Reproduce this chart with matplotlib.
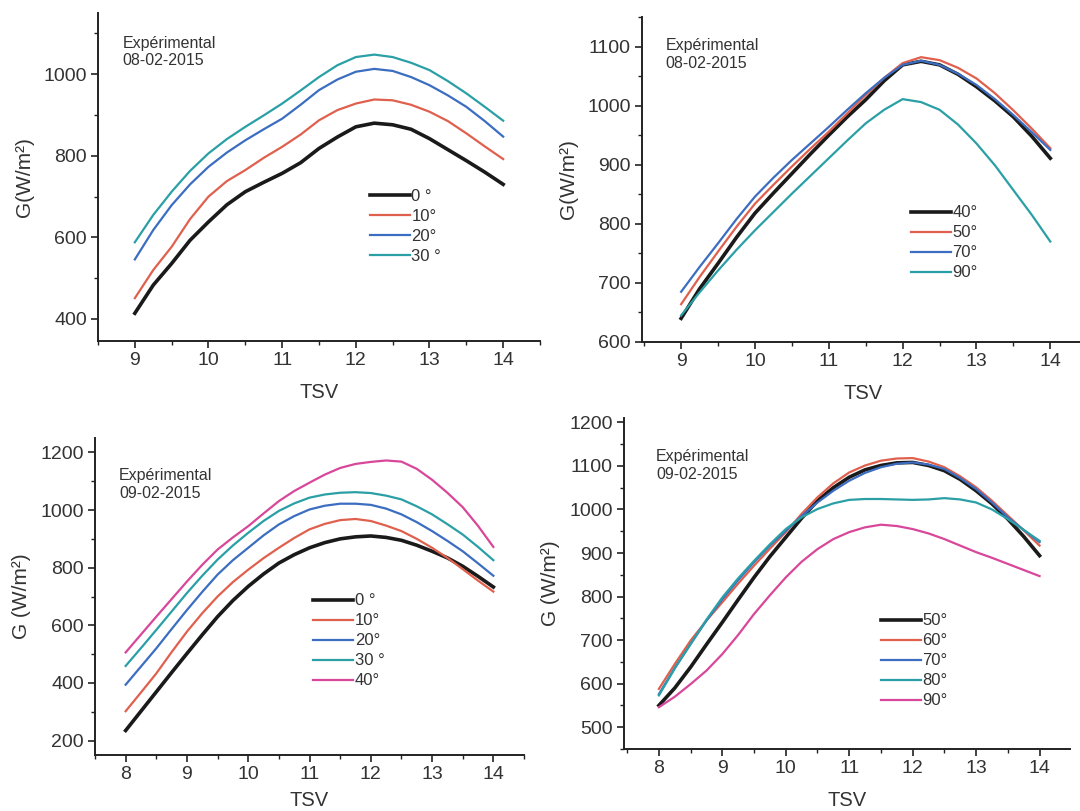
import numpy as np
import matplotlib.pyplot as plt
from matplotlib.ticker import MultipleLocator

plt.rcParams['font.family'] = ['Liberation Sans', 'DejaVu Sans']

# --- panel 1 : 08-02-2015, 0..30 deg (TSV 9..14 every quarter hour)
x1 = np.arange(9, 14.01, 0.25)
p1_0 = [414, 483, 536, 593, 638, 680, 712, 735, 757, 783, 818,
        846, 871, 880, 876, 865, 842, 815, 788, 760, 730]
p1_10 = [451, 520, 577, 645, 700, 738, 765, 795, 822, 852, 887,
         912, 928, 938, 936, 925, 908, 885, 855, 823, 792]
p1_20 = [546, 618, 679, 730, 773, 808, 838, 865, 891, 925, 961,
         987, 1006, 1013, 1008, 993, 973, 948, 920, 885, 847]
p1_30 = [588, 655, 712, 763, 806, 841, 871, 899, 928, 960, 993,
         1022, 1042, 1048, 1042, 1028, 1010, 983, 953, 920, 886]
labels1 = ['0 °', '10°', '20°', '30 °']

# --- panel 2 : 08-02-2015, 40..90 deg
x2 = np.arange(9, 14.01, 0.25)
p2_40 = [640, 690, 733, 777, 818, 852, 885, 918, 950, 981, 1010,
         1042, 1069, 1075, 1069, 1053, 1032, 1008, 981, 948, 911]
p2_50 = [664, 710, 753, 795, 834, 866, 897, 927, 956, 987, 1018,
         1047, 1072, 1082, 1077, 1064, 1046, 1021, 992, 961, 928]
p2_70 = [685, 727, 767, 808, 846, 878, 908, 936, 964, 993, 1021,
         1047, 1069, 1076, 1069, 1054, 1035, 1011, 984, 955, 925]
p2_90 = [645, 684, 721, 756, 789, 820, 851, 881, 911, 941, 970,
         993, 1011, 1006, 993, 968, 936, 899, 857, 815, 770]
labels2 = ['40°', '50°', '70°', '90°']

# --- panel 3 : 09-02-2015, 0..40 deg (TSV 8..14)
x3 = np.arange(8, 14.01, 0.25)
p3_0 = [235, 302, 369, 436, 502, 567, 630, 686, 735, 778, 816, 845, 869,
        887, 900, 907, 910, 905, 895, 878, 857, 834, 805, 770, 733]
p3_10 = [302, 367, 433, 507, 578, 642, 700, 750, 793, 833, 869, 903, 933,
         952, 965, 969, 962, 946, 927, 900, 869, 834, 795, 755, 717]
p3_20 = [394, 457, 520, 587, 653, 716, 776, 826, 869, 912, 950, 979, 1002,
         1015, 1022, 1022, 1018, 1005, 985, 958, 927, 893, 857, 815, 772]
p3_30 = [459, 521, 584, 648, 712, 772, 828, 877, 921, 962, 997, 1023, 1043,
         1054, 1060, 1062, 1059, 1050, 1037, 1013, 985, 951, 915, 872, 826]
p3_40 = [506, 568, 630, 691, 752, 810, 863, 905, 944, 988, 1031, 1066, 1095,
         1123, 1146, 1160, 1167, 1172, 1168, 1143, 1105, 1060, 1010, 945, 872]
labels3 = ['0 °', '10°', '20°', '30 °', '40°']

# --- panel 4 : 09-02-2015, 50..90 deg
x4 = np.arange(8, 14.01, 0.25)
p4_50 = [550, 590, 638, 690, 741, 793, 844, 892, 936, 980, 1020, 1050, 1074,
         1091, 1101, 1107, 1108, 1101, 1089, 1069, 1043, 1013, 978, 938, 894]
p4_60 = [588, 645, 699, 745, 787, 830, 871, 910, 948, 990, 1028, 1060, 1085,
         1101, 1112, 1117, 1118, 1110, 1097, 1076, 1051, 1020, 986, 952, 917]
p4_70 = [576, 636, 691, 745, 794, 838, 879, 917, 951, 985, 1016, 1043, 1066,
         1084, 1097, 1105, 1108, 1103, 1093, 1072, 1047, 1016, 982, 953, 925]
p4_80 = [573, 635, 691, 747, 798, 842, 882, 920, 955, 982, 1001, 1014, 1022,
         1024, 1024, 1023, 1022, 1023, 1026, 1023, 1016, 1000, 978, 953, 928]
p4_90 = [546, 570, 599, 630, 668, 712, 760, 803, 844, 880, 909, 932, 948,
         959, 965, 962, 955, 945, 932, 917, 902, 889, 875, 861, 847]
labels4 = ['50°', '60°', '70°', '80°', '90°']

BLACK = '#1a1a1a'
RED = '#e0604e'
BLUE = '#3b6dc0'
CYAN = '#2aa0a6'
MAG = '#d8479a'
TXT = '#333333'

W, H = 1080, 811
fig = plt.figure(figsize=(W / 100, H / 100), dpi=100)


def make_ax(l, r, t, b):
    return fig.add_axes([l / W, 1 - b / H, (r - l) / W, (b - t) / H])


def style(ax, xlim, ylim, ymaj, xticks, ylabel, date, txt_pos, leg_pos, xpad):
    ax.set_xlim(*xlim)
    ax.set_ylim(*ylim)
    ax.spines['top'].set_visible(False)
    ax.spines['right'].set_visible(False)
    for s in ('left', 'bottom'):
        ax.spines[s].set_linewidth(1.4)
        ax.spines[s].set_color('#222222')
    ax.set_xticks(xticks)
    ax.xaxis.set_minor_locator(MultipleLocator(0.5))
    ax.yaxis.set_major_locator(MultipleLocator(ymaj))
    ax.yaxis.set_minor_locator(MultipleLocator(ymaj / 2))
    ax.tick_params(which='major', direction='out', length=5, width=1.2,
                   labelsize=14, colors='#222222', labelcolor=TXT, pad=3)
    ax.tick_params(which='minor', direction='out', length=3, width=1.0,
                   colors='#222222')
    ax.set_xlabel('TSV', fontsize=14.5, color=TXT, labelpad=xpad)
    ax.set_ylabel(ylabel, fontsize=15, color=TXT, labelpad=7)
    ax.text(txt_pos[0], txt_pos[1], 'Expérimental\n' + date,
            transform=ax.transAxes, fontsize=11.5, color=TXT,
            va='top', ha='left', linespacing=1.2)
    leg = ax.legend(loc='center left', bbox_to_anchor=leg_pos, frameon=False,
                    fontsize=12, handlelength=2.4, handletextpad=0.1,
                    labelspacing=0.3, borderaxespad=0, borderpad=0)
    for t in leg.get_texts():
        t.set_color(TXT)


# panel 1
ax = make_ax(98, 540, 13, 341)
ax.plot(x1, p1_0, color=BLACK, lw=2.6, label=labels1[0])
ax.plot(x1, p1_10, color=RED, lw=1.6, label=labels1[1])
ax.plot(x1, p1_20, color=BLUE, lw=1.6, label=labels1[2])
ax.plot(x1, p1_30, color=CYAN, lw=1.6, label=labels1[3])
style(ax, (8.5, 14.5), (346, 1150), 200, range(9, 15), 'G(W/m²)',
      '08-02-2015', (0.055, 0.93), (0.615, 0.35), 10)

# panel 2
ax = make_ax(642, 1085, 17, 342)
ax.plot(x2, p2_40, color=BLACK, lw=2.6, label=labels2[0])
ax.plot(x2, p2_50, color=RED, lw=1.6, label=labels2[1])
ax.plot(x2, p2_70, color=BLUE, lw=1.6, label=labels2[2])
ax.plot(x2, p2_90, color=CYAN, lw=1.6, label=labels2[3])
style(ax, (8.47, 14.47), (600, 1150), 100, range(9, 15), 'G(W/m²)',
      '08-02-2015', (0.053, 0.935), (0.607, 0.305), 10)

# panel 3
ax = make_ax(95, 524, 438, 755)
ax.plot(x3, p3_0, color=BLACK, lw=2.6, label=labels3[0])
ax.plot(x3, p3_10, color=RED, lw=1.6, label=labels3[1])
ax.plot(x3, p3_20, color=BLUE, lw=1.6, label=labels3[2])
ax.plot(x3, p3_30, color=CYAN, lw=1.6, label=labels3[3])
ax.plot(x3, p3_40, color=MAG, lw=1.6, label=labels3[4])
style(ax, (7.5, 14.5), (150, 1250), 200, range(8, 15), 'G (W/m²)',
      '09-02-2015', (0.056, 0.905), (0.509, 0.36), 6)

# panel 4
ax = make_ax(624, 1070, 418, 749)
ax.plot(x4, p4_50, color=BLACK, lw=2.6, label=labels4[0])
ax.plot(x4, p4_60, color=RED, lw=1.6, label=labels4[1])
ax.plot(x4, p4_70, color=BLUE, lw=1.6, label=labels4[2])
ax.plot(x4, p4_80, color=CYAN, lw=1.6, label=labels4[3])
ax.plot(x4, p4_90, color=MAG, lw=1.6, label=labels4[4])
style(ax, (7.45, 14.48), (450, 1210), 100, range(8, 15), 'G (W/m²)',
      '09-02-2015', (0.072, 0.905), (0.576, 0.266), 10)

fig.savefig('out.png', dpi=100)
